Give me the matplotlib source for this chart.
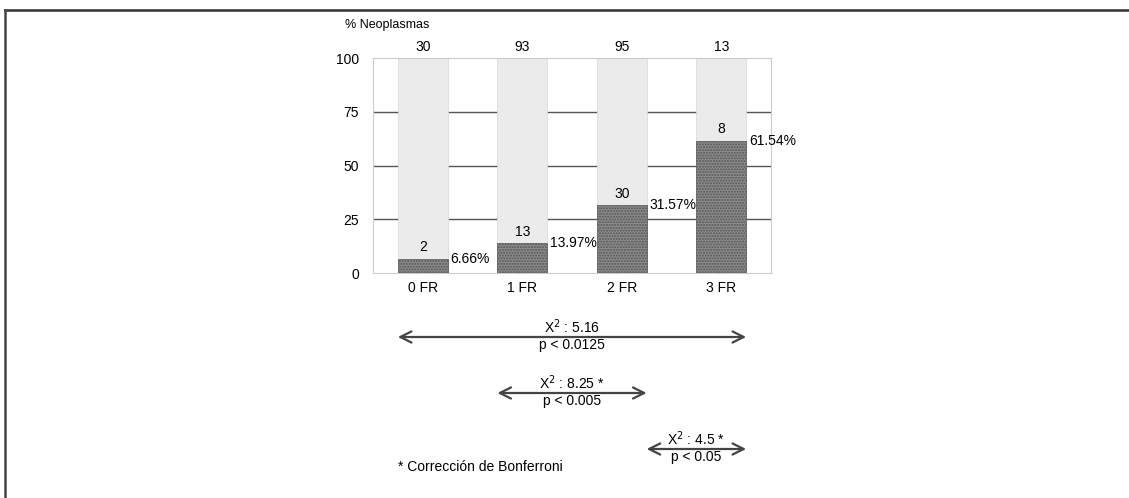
import numpy as np
import matplotlib.pyplot as plt
from matplotlib.lines import Line2D

# Datos
categorias = ["0 FR", "1 FR", "2 FR", "3 FR"]
totales = [30, 93, 95, 13]
neoplasmas = [2, 13, 30, 8]
porcentajes = [6.66, 13.97, 31.57, 61.54]
etiquetas_pct = ["6.66%", "13.97%", "31.57%", "61.54%"]

# Comparaciones (desde, hasta, chi2, p)
comp_desde = [-0.25, 0.75, 2.25]
comp_hasta = [3.25, 2.25, 3.25]
comp_chi = ["5.16", "8.25 *", "4.5 *"]
comp_p = ["p < 0.0125", "p < 0.005", "p < 0.05"]

plt.rcParams["font.family"] = ["Liberation Sans", "DejaVu Sans"]

fig = plt.figure(figsize=(11.29, 4.98), dpi=100)
W, H = 1129, 498

# Marco exterior (solo arriba e izquierda)
fig.add_artist(Line2D([5 / W, 1], [1 - 10.5 / H, 1 - 10.5 / H], color="#333333", lw=1.8))
fig.add_artist(Line2D([5 / W, 5 / W], [0, 1 - 10.5 / H], color="#444444", lw=1.8))

# Ejes principales
ax = fig.add_axes([373 / W, 1 - 273 / H, (771 - 373) / W, (273 - 58) / H])
x = np.arange(len(categorias))
ax.set_xlim(-0.5, 3.5)
ax.set_ylim(0, 100)

for y in [25, 50, 75]:
    ax.axhline(y, color="#555555", lw=1.0, zorder=0)

ax.bar(x, [100] * 4, width=0.5, color="#ebebeb", edgecolor="#d8d8d8", lw=0.5, zorder=2)
ax.bar(x, porcentajes, width=0.5, color="#8c8c8c", edgecolor="#555555",
       hatch="......", lw=0.5, zorder=3)

for i in range(len(categorias)):
    ax.text(x[i], porcentajes[i] + 2, str(neoplasmas[i]), ha="center", va="bottom",
            fontsize=10, zorder=4)
    ax.text(x[i] + 0.28, porcentajes[i], etiquetas_pct[i], ha="left", va="center",
            fontsize=10, zorder=4)
    ax.text(x[i], 102, str(totales[i]), ha="center", va="bottom", fontsize=10)

ax.set_xticks(x)
ax.set_xticklabels(categorias, fontsize=10)
ax.set_yticks([0, 25, 50, 75, 100])
ax.tick_params(length=0, pad=6)
ax.tick_params(axis="y", pad=10)
for s in ax.spines.values():
    s.set_color("#cccccc")
    s.set_linewidth(0.8)

fig.text(345 / W, 1 - 25 / H, "% Neoplasmas", fontsize=9, ha="left", va="center")

# Flechas de comparaciones
ax2 = fig.add_axes([373 / W, 1 - 480 / H, (771 - 373) / W, (480 - 310) / H])
ax2.set_xlim(-0.5, 3.5)
ax2.set_ylim(480, 310)
ax2.axis("off")
ys = [337, 393, 449]
for i in range(3):
    ax2.annotate("", xy=(comp_hasta[i], ys[i]), xytext=(comp_desde[i], ys[i]),
                 arrowprops=dict(arrowstyle="<->", color="#444444", lw=1.6,
                                 mutation_scale=20, shrinkA=0, shrinkB=0))
    xc = (comp_desde[i] + comp_hasta[i]) / 2
    ax2.text(xc, ys[i] - 1, "X$^2$ : " + comp_chi[i], ha="center", va="bottom", fontsize=10)
    ax2.text(xc, ys[i] + 1, comp_p[i], ha="center", va="top", fontsize=10)

ax2.text(-0.25, 467, "* Corrección de Bonferroni", ha="left", va="center", fontsize=10)

plt.savefig("out.png", dpi=100)
